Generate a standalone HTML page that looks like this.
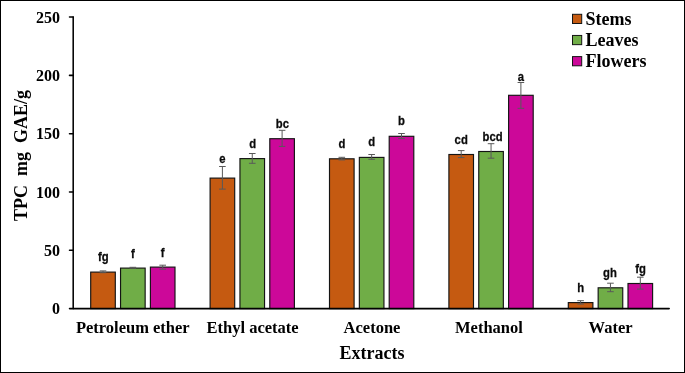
<!DOCTYPE html>
<html lang="en">
<head>
<meta charset="utf-8">
<title>TPC of extracts</title>
<style>
html,body{margin:0;padding:0;background:#fff;}
body{width:685px;height:373px;overflow:hidden;}
svg{display:block;will-change:transform;}
</style>
</head>
<body>
<svg width="685" height="373" viewBox="0 0 685 373">
<rect x="0" y="0" width="685" height="373" fill="#fff"/>
<rect x="90.70" y="272.10" width="24.60" height="36.50" fill="#C55A11" stroke="#141414" stroke-width="1.15"/>
<rect x="120.55" y="268.10" width="24.60" height="40.50" fill="#70AD47" stroke="#141414" stroke-width="1.15"/>
<rect x="150.40" y="267.10" width="24.60" height="41.50" fill="#CC0899" stroke="#141414" stroke-width="1.15"/>
<rect x="210.10" y="178.10" width="24.60" height="130.50" fill="#C55A11" stroke="#141414" stroke-width="1.15"/>
<rect x="239.95" y="158.60" width="24.60" height="150.00" fill="#70AD47" stroke="#141414" stroke-width="1.15"/>
<rect x="269.80" y="138.70" width="24.60" height="169.90" fill="#CC0899" stroke="#141414" stroke-width="1.15"/>
<rect x="329.50" y="158.80" width="24.60" height="149.80" fill="#C55A11" stroke="#141414" stroke-width="1.15"/>
<rect x="359.35" y="157.40" width="24.60" height="151.20" fill="#70AD47" stroke="#141414" stroke-width="1.15"/>
<rect x="389.20" y="136.30" width="24.60" height="172.30" fill="#CC0899" stroke="#141414" stroke-width="1.15"/>
<rect x="448.90" y="154.50" width="24.60" height="154.10" fill="#C55A11" stroke="#141414" stroke-width="1.15"/>
<rect x="478.75" y="151.50" width="24.60" height="157.10" fill="#70AD47" stroke="#141414" stroke-width="1.15"/>
<rect x="508.60" y="95.30" width="24.60" height="213.30" fill="#CC0899" stroke="#141414" stroke-width="1.15"/>
<rect x="568.30" y="302.60" width="24.60" height="6.00" fill="#C55A11" stroke="#141414" stroke-width="1.15"/>
<rect x="598.15" y="287.80" width="24.60" height="20.80" fill="#70AD47" stroke="#141414" stroke-width="1.15"/>
<rect x="628.00" y="283.50" width="24.60" height="25.10" fill="#CC0899" stroke="#141414" stroke-width="1.15"/>
<path d="M103.00 270.90V272.70M99.70 270.90H106.30M99.70 272.70H106.30" fill="none" stroke="#595959" stroke-width="1"/>
<path d="M132.85 267.30V268.20M129.55 267.30H136.15M129.55 268.20H136.15" fill="none" stroke="#595959" stroke-width="1"/>
<path d="M162.70 265.20V269.20M159.40 265.20H166.00M159.40 269.20H166.00" fill="none" stroke="#595959" stroke-width="1"/>
<path d="M222.40 166.50V189.10M219.10 166.50H225.70M219.10 189.10H225.70" fill="none" stroke="#595959" stroke-width="1"/>
<path d="M252.25 153.50V163.30M248.95 153.50H255.55M248.95 163.30H255.55" fill="none" stroke="#595959" stroke-width="1"/>
<path d="M282.10 130.30V146.40M278.80 130.30H285.40M278.80 146.40H285.40" fill="none" stroke="#595959" stroke-width="1"/>
<path d="M341.80 157.30V159.90M338.50 157.30H345.10M338.50 159.90H345.10" fill="none" stroke="#595959" stroke-width="1"/>
<path d="M371.65 154.50V159.30M368.35 154.50H374.95M368.35 159.30H374.95" fill="none" stroke="#595959" stroke-width="1"/>
<path d="M401.50 133.50V138.60M398.20 133.50H404.80M398.20 138.60H404.80" fill="none" stroke="#595959" stroke-width="1"/>
<path d="M461.20 150.60V157.60M457.90 150.60H464.50M457.90 157.60H464.50" fill="none" stroke="#595959" stroke-width="1"/>
<path d="M491.05 143.70V158.20M487.75 143.70H494.35M487.75 158.20H494.35" fill="none" stroke="#595959" stroke-width="1"/>
<path d="M520.90 82.50V108.30M517.60 82.50H524.20M517.60 108.30H524.20" fill="none" stroke="#595959" stroke-width="1"/>
<path d="M580.60 300.70V304.00M577.30 300.70H583.90M577.30 304.00H583.90" fill="none" stroke="#595959" stroke-width="1"/>
<path d="M610.45 283.20V291.70M607.15 283.20H613.75M607.15 291.70H613.75" fill="none" stroke="#595959" stroke-width="1"/>
<path d="M640.30 277.20V289.10M637.00 277.20H643.60M637.00 289.10H643.60" fill="none" stroke="#595959" stroke-width="1"/>
<path d="M73.2 17.1V308.6" stroke="#000" stroke-width="1.55" stroke-linecap="round" stroke-linejoin="round" fill="none"/>
<path d="M69.5 308.6H669.2" stroke="#000" stroke-width="1.55" stroke-linecap="round" stroke-linejoin="round" fill="none"/>
<path d="M69.5 250.30H73.2" stroke="#000" stroke-width="1.55" stroke-linecap="round" stroke-linejoin="round" fill="none"/>
<path d="M69.5 191.99H73.2" stroke="#000" stroke-width="1.55" stroke-linecap="round" stroke-linejoin="round" fill="none"/>
<path d="M69.5 133.69H73.2" stroke="#000" stroke-width="1.55" stroke-linecap="round" stroke-linejoin="round" fill="none"/>
<path d="M69.5 75.38H73.2" stroke="#000" stroke-width="1.55" stroke-linecap="round" stroke-linejoin="round" fill="none"/>
<path d="M69.5 17.08H73.2" stroke="#000" stroke-width="1.55" stroke-linecap="round" stroke-linejoin="round" fill="none"/>
<g font-family="'Liberation Serif', 'Times New Roman', serif" font-weight="bold" fill="#000">
<text x="60" y="314.30" font-size="16" text-anchor="end">0</text>
<text x="60" y="256.00" font-size="16" text-anchor="end">50</text>
<text x="60" y="197.69" font-size="16" text-anchor="end">100</text>
<text x="60" y="139.39" font-size="16" text-anchor="end">150</text>
<text x="60" y="81.08" font-size="16" text-anchor="end">200</text>
<text x="60" y="22.78" font-size="16" text-anchor="end">250</text>
<text x="75.9" y="333.3" font-size="16.5">Petroleum ether</text>
<text x="206.5" y="333.3" font-size="16.5">Ethyl acetate</text>
<text x="343.6" y="333.3" font-size="16.5">Acetone</text>
<text x="455.0" y="333.3" font-size="16.5">Methanol</text>
<text x="588.6" y="333.3" font-size="16.5">Water</text>
<text x="339.6" y="358.9" font-size="18">Extracts</text>
<text transform="translate(26.8 220.9) rotate(-90)" font-size="18" xml:space="preserve">TPC  mg  GAE/g</text>
<rect x="572.5" y="14.30" width="9.2" height="9.2" fill="#C55A11" stroke="#141414" stroke-width="1"/>
<text x="585.5" y="24.80" font-size="18">Stems</text>
<rect x="572.5" y="35.45" width="9.2" height="9.2" fill="#70AD47" stroke="#141414" stroke-width="1"/>
<text x="585.5" y="45.95" font-size="18">Leaves</text>
<rect x="572.5" y="56.60" width="9.2" height="9.2" fill="#CC0899" stroke="#141414" stroke-width="1"/>
<text x="585.5" y="67.10" font-size="18">Flowers</text>
</g>
<g font-family="'Liberation Sans', Arial, sans-serif" font-weight="bold" font-size="12" fill="#0a0a0a" stroke="#0a0a0a" stroke-width="0.25" text-anchor="middle">
<text transform="translate(103.2 261.1) scale(0.94 1.07)">fg</text>
<text transform="translate(133.0 257.7) scale(0.94 1.07)">f</text>
<text transform="translate(162.6 256.5) scale(0.94 1.07)">f</text>
<text transform="translate(222.4 162.7) scale(0.94 1.07)">e</text>
<text transform="translate(252.6 148.0) scale(0.94 1.07)">d</text>
<text transform="translate(282.4 127.7) scale(0.94 1.07)">bc</text>
<text transform="translate(342.0 148.2) scale(0.94 1.07)">d</text>
<text transform="translate(371.8 146.4) scale(0.94 1.07)">d</text>
<text transform="translate(401.5 125.0) scale(0.94 1.07)">b</text>
<text transform="translate(461.2 143.7) scale(0.94 1.07)">cd</text>
<text transform="translate(492.6 140.7) scale(0.94 1.07)">bcd</text>
<text transform="translate(520.9 80.9) scale(0.94 1.07)">a</text>
<text transform="translate(580.6 291.7) scale(0.94 1.07)">h</text>
<text transform="translate(610.0 277.2) scale(0.94 1.07)">gh</text>
<text transform="translate(640.6 272.8) scale(0.94 1.07)">fg</text>
</g>
<rect x="0.5" y="0.5" width="684" height="372" fill="none" stroke="#000" stroke-width="1"/>
</svg>
</body>
</html>
